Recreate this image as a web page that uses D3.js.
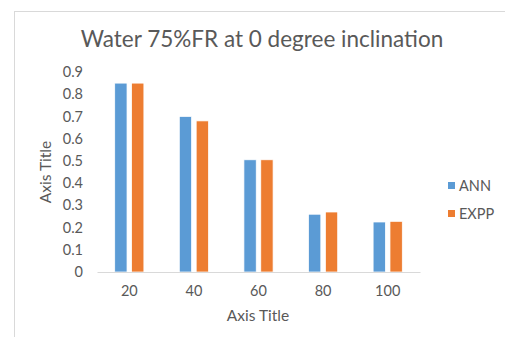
<!DOCTYPE html>
<meta charset="utf-8">
<script src="https://d3js.org/d3.v7.min.js"></script>
<style>
  body { margin: 0; background: #fff; }
  text { font-family: Lato, "Open Sans", sans-serif; fill: #595959; }
</style>
<svg id="chart" width="505" height="337"></svg>
<script>
// data
const categories = ["20", "40", "60", "80", "100"];
const annValues = [0.85, 0.70, 0.505, 0.26, 0.225];
const exppValues = [0.85, 0.68, 0.505, 0.27, 0.228];
const seriesNames = ["ANN", "EXPP"];
const yTicks = [0, 0.1, 0.2, 0.3, 0.4, 0.5, 0.6, 0.7, 0.8, 0.9];

const colors = { ANN: "#5B9BD5", EXPP: "#ED7D31" };

const svg = d3.select("#chart");

// chart frame (left/top borders visible, rest cropped)
svg.append("rect")
  .attr("x", 14.5).attr("y", 11.5)
  .attr("width", 520).attr("height", 340)
  .attr("fill", "none").attr("stroke", "#d9d9d9");

const x = d3.scaleBand().domain(categories).range([97, 420]);
const xInner = d3.scaleBand().domain(seriesNames).range([0, x.bandwidth()])
  .paddingInner(0.27).paddingOuter(1.05);
const y = d3.scaleLinear().domain([0, 0.9]).range([272, 72]);

// title
svg.append("text")
  .attr("x", 262).attr("y", 47)
  .attr("text-anchor", "middle")
  .style("font-size", "22.5px")
  .text("Water 75%FR at 0 degree inclination");

// y axis labels
const yAxis = svg.append("g").attr("transform", "translate(83,0)")
  .call(d3.axisLeft(y).tickValues(yTicks).tickSize(0).tickPadding(0)
    .tickFormat(d => d === 0 ? "0" : d3.format(".1f")(d)));
yAxis.select(".domain").remove();
yAxis.selectAll("text").style("font-size", "14.5px").attr("fill", "#595959");

// bars
const rows = categories.map((c, i) => ({ cat: c, ANN: annValues[i], EXPP: exppValues[i] }));
const groups = svg.append("g").selectAll("g")
  .data(rows).join("g")
  .attr("transform", d => `translate(${x(d.cat)},0)`);
groups.selectAll("rect")
  .data(d => seriesNames.map(s => ({ s, v: d[s] })))
  .join("rect")
  .attr("x", d => xInner(d.s))
  .attr("width", xInner.bandwidth())
  .attr("y", d => y(d.v))
  .attr("height", d => y(0) - y(d.v))
  .attr("fill", d => colors[d.s])
  .attr("stroke", "#fff").attr("stroke-width", 0.75);

// x axis
const xAxis = svg.append("g").attr("transform", "translate(0,272)")
  .call(d3.axisBottom(x).tickSize(0).tickPadding(14));
xAxis.select(".domain").attr("stroke", "#d9d9d9");
xAxis.selectAll("text").style("font-size", "14.5px").attr("fill", "#595959");

// axis titles
svg.append("text")
  .attr("x", 258).attr("y", 321)
  .attr("text-anchor", "middle")
  .style("font-size", "15.5px")
  .text("Axis Title");
svg.append("text")
  .attr("transform", "translate(51,172) rotate(-90)")
  .attr("text-anchor", "middle")
  .style("font-size", "15.5px")
  .text("Axis Title");

// legend
const legend = svg.append("g").selectAll("g")
  .data(seriesNames).join("g")
  .attr("transform", (d, i) => `translate(448,${182 + i * 28})`);
legend.append("rect")
  .attr("width", 7).attr("height", 7)
  .attr("fill", d => colors[d]);
legend.append("text")
  .attr("x", 11).attr("y", 8.5)
  .style("font-size", "14.5px")
  .text(d => d);
</script>
